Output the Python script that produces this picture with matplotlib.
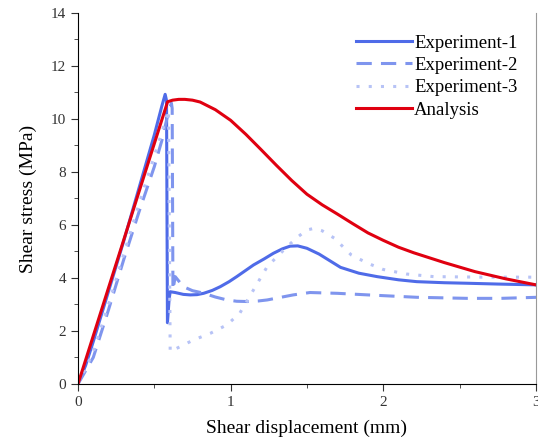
import matplotlib
matplotlib.use("Agg")
import matplotlib.pyplot as plt
from matplotlib.ticker import MultipleLocator

plt.rcParams['font.family'] = ['Liberation Serif', 'DejaVu Serif']

# Experiment-1 (solid)
exp1_x = [0, 0.05, 0.1, 0.2, 0.3, 0.4, 0.5, 0.55, 0.571, 0.58, 0.586, 0.597, 0.604, 0.637,
          0.69, 0.735, 0.78, 0.823, 0.88, 0.932, 0.99, 1.04, 1.1, 1.15, 1.22, 1.28, 1.34,
          1.39, 1.44, 1.5, 1.58, 1.65, 1.72, 1.84, 1.96, 2.1, 2.22, 2.4, 2.55, 2.75, 2.99, 3.05]
exp1_y = [0, 0.7, 1.6, 3.5, 5.4, 7.4, 9.4, 10.5, 10.93, 10.7, 2.31, 3.2, 3.48, 3.45,
          3.38, 3.36, 3.37, 3.42, 3.53, 3.67, 3.86, 4.05, 4.29, 4.49, 4.72, 4.93, 5.1,
          5.2, 5.21, 5.12, 4.9, 4.65, 4.40, 4.18, 4.05, 3.93, 3.86, 3.82, 3.80, 3.77, 3.74, 3.73]

# Experiment-2 (dashed)
exp2_x = [0, 0.1, 0.2, 0.3, 0.4, 0.5, 0.55, 0.59, 0.612, 0.617, 0.622, 0.637, 0.69, 0.75,
          0.82, 0.9, 0.976, 1.04, 1.11, 1.18, 1.24, 1.32, 1.41, 1.52, 1.7, 1.90, 2.22, 2.55,
          2.77, 3.01, 3.05]
exp2_y = [0, 1.0, 2.8, 4.7, 6.5, 8.2, 9.2, 10.2, 10.6, 10.4, 3.55, 4.05, 3.67, 3.52,
          3.43, 3.28, 3.17, 3.12, 3.11, 3.13, 3.17, 3.26, 3.36, 3.45, 3.42, 3.36, 3.27, 3.23,
          3.23, 3.27, 3.27]

# Experiment-3 (dotted)
exp3_x = [0, 0.1, 0.2, 0.3, 0.4, 0.5, 0.55, 0.593, 0.604, 0.67, 0.757, 0.867, 0.976, 1.06,
          1.15, 1.24, 1.37, 1.44, 1.50, 1.545, 1.6, 1.68, 1.79, 1.9, 2.00, 2.15, 2.33, 2.66,
          3.01, 3.05]
exp3_y = [0, 1.2, 3.0, 4.9, 6.8, 8.6, 9.5, 10.34, 1.22, 1.41, 1.66, 1.91, 2.23, 2.67,
          3.55, 4.43, 5.18, 5.55, 5.81, 5.87, 5.78, 5.5, 4.87, 4.55, 4.32, 4.15, 4.05, 4.03,
          4.03, 4.03]

# Analysis (red)
ana_x = [0, 0.587, 0.62, 0.66, 0.7, 0.75, 0.8, 0.9, 1.0, 1.1, 1.2, 1.3, 1.4, 1.5, 1.6,
         1.7, 1.8, 1.9, 2.0, 2.1, 2.2, 2.4, 2.6, 2.8, 3.0, 3.05]
ana_y = [0, 10.65, 10.71, 10.74, 10.74, 10.71, 10.64, 10.35, 9.95, 9.42, 8.84, 8.25,
         7.68, 7.16, 6.76, 6.41, 6.05, 5.7, 5.42, 5.16, 4.95, 4.58, 4.24, 3.97, 3.74, 3.70]

fig = plt.figure(figsize=(5.38, 4.48), dpi=100)
ax = fig.add_axes([0.145, 0.143, 0.851, 0.828])

ax.plot(exp1_x, exp1_y, color='#4f6be8', lw=2.2, label='Experiment-1')
ax.plot(exp2_x, exp2_y, color='#7f95ee', lw=2.2, dashes=(5, 3), label='Experiment-2')
ax.plot(exp3_x, exp3_y, color='#b7c3f6', lw=2.2, dashes=(1, 3), label='Experiment-3')
ax.plot(ana_x, ana_y, color='#e00010', lw=2.2, label='Analysis')

ax.set_xlim(0, 3)
ax.set_ylim(0, 14)
ax.xaxis.set_major_locator(MultipleLocator(1))
ax.xaxis.set_minor_locator(MultipleLocator(0.5))
ax.yaxis.set_major_locator(MultipleLocator(2))
ax.yaxis.set_minor_locator(MultipleLocator(1))
ax.tick_params(which='both', direction='out', labelsize=11, colors='#333333')
ax.tick_params(which='major', length=5)
ax.tick_params(which='minor', length=3)
ax.spines['top'].set_visible(False)
ax.spines['right'].set_color('#999999')

ax.set_xlabel('Shear displacement (mm)', fontsize=14, labelpad=8)
ax.set_ylabel('Shear stress (MPa)', fontsize=14, labelpad=10)

ax.legend(loc='upper left', bbox_to_anchor=(0.648, 0.94), bbox_transform=fig.transFigure,
          frameon=False, fontsize=13.5, handlelength=3.0, handletextpad=0.1,
          labelspacing=0.28, borderaxespad=0.0)

fig.savefig('out.png', dpi=100)
